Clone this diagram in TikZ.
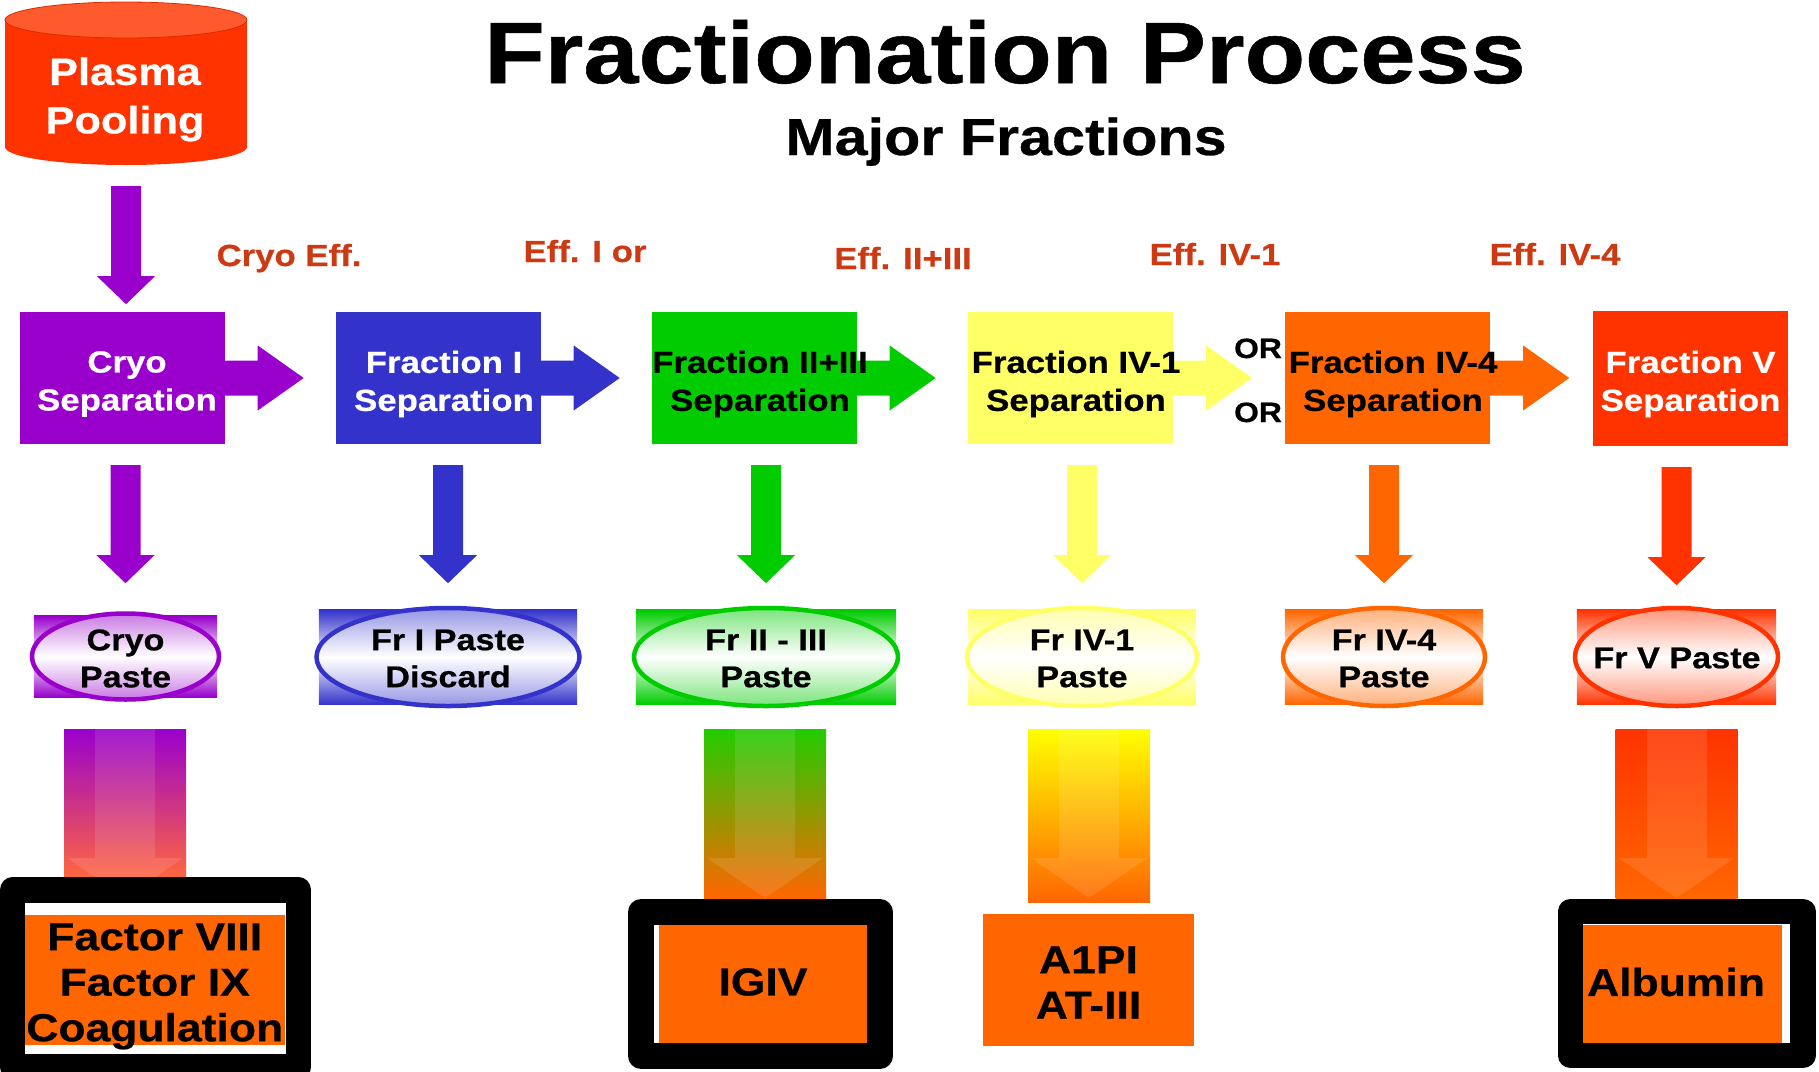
\documentclass[tikz,border=0pt]{standalone}
\usepackage{fontspec}
\newfontfamily\hv{Liberation Sans}[FakeStretch=1.14, BoldFeatures={FakeBold=0.6}]
\usetikzlibrary{calc}
\pgfdeclarelayer{bg}
\pgfsetlayers{bg,main}
\definecolor{cPur}{HTML}{9900CC}
\definecolor{cBlue}{HTML}{3333CC}
\definecolor{cGreen}{HTML}{00CC00}
\definecolor{cGreenB}{HTML}{22CC00}
\definecolor{cYel}{HTML}{FFFF66}
\definecolor{cYelB}{HTML}{FFFF00}
\definecolor{cOrg}{HTML}{FF6600}
\definecolor{cRed}{HTML}{FF3300}
\definecolor{cCylTop}{HTML}{FF5A2E}
\definecolor{cEff}{HTML}{CC3A14}
\definecolor{cCryoBot}{HTML}{FF6640}
\newcommand\fsz[2]{\fontsize{#1}{#2}\selectfont}
\newcommand\rarrow[2]{\fill[#1] ([xshift=-1pt]#2.east) ++(0,-17.5) -- ++(34,0) -- ++(0,-15) -- ++(46,32.5) -- ++(-46,32.5) -- ++(0,-15) -- ++(-34,0) -- cycle;}
\newcommand\dnarrow[2]{\fill[#1] #2 ++(-15,21) -- ++(30,0) -- ++(0,90) -- ++(14,0) -- ++(-29,28) -- ++(-29,-28) -- ++(14,0) -- cycle;}
\newcommand\pastebg[4]{%
  \shade[top color=#2, bottom color=#2, middle color=white] (#1.south west) rectangle (#1.north east);
  \draw[line width=4.5, draw=#2, fill=white, fill opacity=0.5] (#1.center) ellipse [x radius=#3, y radius=#4];}
\newcommand\gradarrow[5]{%
  \shade[top color=#4, bottom color=#5] (#1-61,#2) rectangle (#1+61,#3);
  \begin{scope}
    \clip (#1-61,#2) rectangle (#1+61,#3);
    \fill[white, opacity=0.11] (#1-30,#2) rectangle (#1+30,858);
    \fill[white, opacity=0.11] (#1-58,858) -- (#1+58,858) -- (#1,898) -- cycle;
  \end{scope}}
\begin{document}
\begin{tikzpicture}[x=1pt,y=-1pt,
  sepbox/.style={rectangle, inner sep=0, minimum width=205, minimum height=132},
  septxt/.style={align=center, inner sep=0, font=\hv\bfseries\fsz{30.5}{38}},
  pastebox/.style={rectangle, inner sep=0, minimum height=94},
  pastetxt/.style={align=center, inner sep=0, font=\hv\bfseries\fsz{30}{37}},
  prodbox/.style={rectangle, inner sep=0, fill=cOrg},
  prodtxt/.style={align=center, inner sep=0, font=\hv\bfseries\fsz{39}{45.5}},
  efflabel/.style={anchor=base, inner sep=0, text=cEff, font=\hv\bfseries\fsz{30.5}{36}},
  orlabel/.style={anchor=base, inner sep=0, font=\hv\bfseries\fsz{28}{32}},
  prodframe/.style={line width=25.5, line join=round, draw=black}]
\useasboundingbox (0,0) rectangle (1819,1071);

% titles
\node[anchor=base, inner sep=0, font=\hv\bfseries\fsz{87}{90}] (title) at (1005,83) {Fractionation Process};
\node[anchor=base, inner sep=0, font=\hv\bfseries\fsz{52}{55}] (subtitle) at (1006,155) {Major Fractions};

% plasma pooling
\node[inner sep=0, minimum width=242, minimum height=163] (plasma) at (126,83.5) {};
\node[align=center, inner sep=0, text=white, font=\hv\bfseries\fsz{38}{48.5}] (plasmat) at (125,99.4) {Plasma\\Pooling};

% effluent labels
\node[efflabel] (e1) at (289,266) {Cryo Eff.};
\node[efflabel] (e2) at (585,262) {Eff. I or};
\node[efflabel] (e3) at (903,269) {Eff. II+III};
\node[efflabel] (e4) at (1215,265) {Eff. IV-1};
\node[efflabel] (e5) at (1555,265) {Eff. IV-4};
\node[orlabel] (or1) at (1258,358) {OR};
\node[orlabel] (or2) at (1258,422) {OR};

% separation boxes
\node[sepbox, fill=cPur] (s1) at (122,378) {};
\node[sepbox, fill=cBlue] (s2) at (438,378) {};
\node[sepbox, fill=cGreen] (s3) at (754,378) {};
\node[sepbox, fill=cYel] (s4) at (1070.5,378) {};
\node[sepbox, fill=cOrg] (s5) at (1387.5,378) {};
\node[sepbox, fill=cRed, minimum width=195, minimum height=135] (s6) at (1690.5,378.5) {};
\node[septxt, text=white] (t1) at (127,384) {Cryo\\Separation};
\node[septxt, text=white] (t2) at (444,384) {Fraction I\\Separation};
\node[septxt, text=black] (t3) at (760,384) {Fraction II+III\\Separation};
\node[septxt, text=black] (t4) at (1076,384) {Fraction IV-1\\Separation};
\node[septxt, text=black] (t5) at (1393,384) {Fraction IV-4\\Separation};
\node[septxt, text=white] (t6) at (1690.5,384) {Fraction V\\Separation};

% paste nodes
\node[pastebox, minimum width=183, minimum height=81] (p1) at (125.5,656.5) {};
\node[pastebox, minimum width=258] (p2) at (448,657) {};
\node[pastebox, minimum width=260] (p3) at (766,657) {};
\node[pastebox, minimum width=228] (p4) at (1082,657) {};
\node[pastebox, minimum width=198] (p5) at (1384,657) {};
\node[pastebox, minimum width=199] (p6) at (1676.5,657) {};
\node[pastetxt] (pt1) at (125.5,658.5) {Cryo\\Paste};
\node[pastetxt] (pt2) at (448,658.5) {Fr I Paste\\Discard};
\node[pastetxt] (pt3) at (766,658.5) {Fr II - III\\Paste};
\node[pastetxt] (pt4) at (1082,658.5) {Fr IV-1\\Paste};
\node[pastetxt] (pt5) at (1384,658.5) {Fr IV-4\\Paste};
\node[pastetxt] (pt6) at (1677,658) {Fr V Paste};

% products
\node[prodbox, minimum width=260.5, minimum height=130] (f1) at (154.75,980) {};
\node[prodbox, minimum width=208, minimum height=118] (f2) at (763,984) {};
\node[prodbox, minimum width=211, minimum height=132] (f3) at (1088.5,980) {};
\node[prodbox, minimum width=199, minimum height=118] (f4) at (1682.5,984) {};
\node[prodtxt] (ft1) at (154.75,986.4) {Factor VIII\\Factor IX\\Coagulation};
\node[prodtxt] (ft2) at (763,982) {IGIV};
\node[prodtxt] (ft3) at (1088.5,982.5) {A1PI\\AT-III};
\node[prodtxt] (ft4) at (1676,982) {Albumin};

\begin{pgfonlayer}{bg}
  % cylinder
  \fill[cRed] (5,20) rectangle (247,147);
  \fill[cRed] (126,147) ellipse [x radius=121, y radius=18];
  \draw[fill=cCylTop, draw=cRed!85!black, line width=0.8] (126,20) ellipse [x radius=121, y radius=18];
  % down arrows
  \dnarrow{cPur}{(plasma.south)}
  \dnarrow{cPur}{(s1.south -| p1.north)}
  \dnarrow{cBlue}{(s2.south -| p2.north)}
  \dnarrow{cGreen}{(s3.south -| p3.north)}
  \dnarrow{cYel}{(s4.south -| p4.north)}
  \dnarrow{cOrg}{(s5.south -| p5.north)}
  \dnarrow{cRed}{(s6.south -| p6.north)}
  % right arrows
  \rarrow{cPur}{s1}
  \rarrow{cBlue}{s2}
  \rarrow{cGreen}{s3}
  \rarrow{cYel}{s4}
  \rarrow{cOrg}{s5}
  % paste backgrounds
  \pastebg{p1}{cPur}{93.5}{43}
  \pastebg{p2}{cBlue}{131.5}{49}
  \pastebg{p3}{cGreen}{132}{49}
  \pastebg{p4}{cYel}{115}{49}
  \pastebg{p5}{cOrg}{101}{49}
  \pastebg{p6}{cRed}{101.5}{49}
  % gradient arrows
  \gradarrow{125}{729}{877}{cPur}{cCryoBot}
  \gradarrow{765}{729}{898}{cGreenB}{cOrg}
  \gradarrow{1089}{729}{902}{cYelB}{cOrg}
  \gradarrow{1676.5}{729}{898}{cRed}{cOrg}
  % frames
  \draw[prodframe] (12.5,890) rectangle (298.5,1067);
  \draw[prodframe] (641,912) rectangle (880,1056);
  \draw[prodframe] (1570.5,911.5) rectangle (1803,1055.5);
\end{pgfonlayer}
\end{tikzpicture}
\end{document}
